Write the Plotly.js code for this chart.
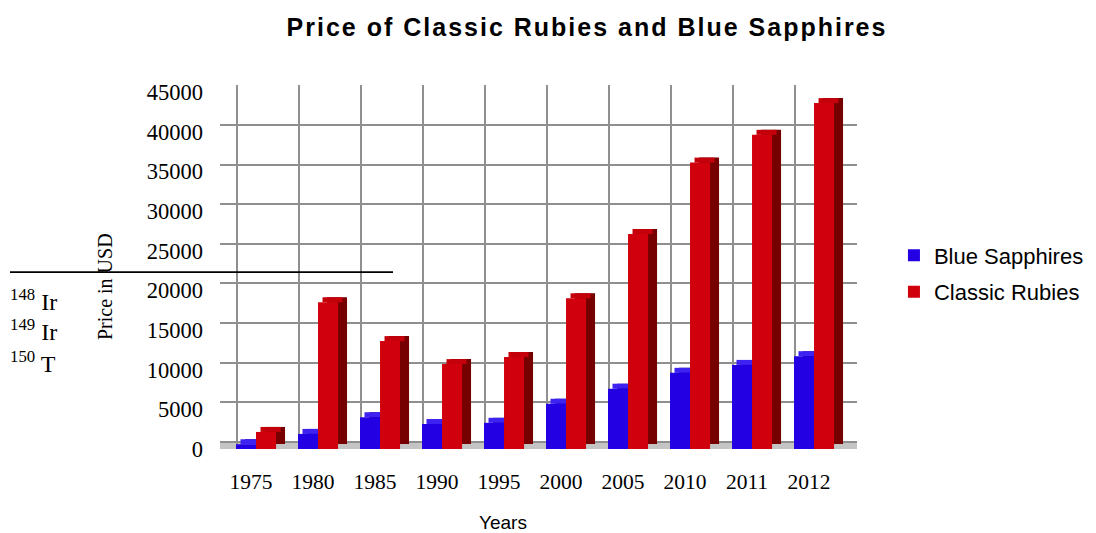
<!DOCTYPE html>
<html>
<head>
<meta charset="utf-8">
<script src="https://cdn.plot.ly/plotly-3.0.1.min.js"></script>
<style>
  html, body { margin: 0; padding: 0; background: #ffffff; }
  #chart { width: 1096px; height: 533px; }
  #chart .gtitle { letter-spacing: 2px; }
</style>
</head>
<body>
<div id="chart"></div>
<script>
// ---- data ----
const years = ['1975', '1980', '1985', '1990', '1995', '2000', '2005', '2010', '2011', '2012'];
const blueSapphires = [600, 1900, 4000, 3150, 3300, 5700, 7600, 9600, 10600, 11700];
const classicRubies = [2150, 18500, 13600, 10700, 11600, 19000, 27100, 36100, 39600, 43600];
const yTickValues = [0, 5000, 10000, 15000, 20000, 25000, 30000, 35000, 40000, 45000];
const yTickLabels = ['0', '5000', '10000', '15000', '20000', '25000', '30000', '35000', '40000', '45000'];
const seriesNames = ['Blue Sapphires', 'Classic Rubies'];

// ---- style ----
const SANS = 'Liberation Sans, Arial, sans-serif';
const SERIF = 'Liberation Serif, Times New Roman, serif';
const W = 0.323;          // bar front width (category units)
const DX = 0.145;         // 3D depth offset (category units)
const DY = 630;           // 3D depth rise (value units)

function bar3d(name, vals, offset, front, top, side, group) {
  return [
    { type: 'bar', x: years, y: vals, base: vals.map(() => DY), offset: offset + DX, width: W,
      marker: { color: side, line: { width: 0 } }, showlegend: false, hoverinfo: 'skip',
      xaxis: 'x', yaxis: 'y' },
    { type: 'bar', x: years, y: vals.map(() => DY), base: vals, offset: offset + DX / 2, width: W,
      marker: { color: top, line: { width: 0 } }, showlegend: false, hoverinfo: 'skip',
      xaxis: 'x', yaxis: 'y' },
    { type: 'bar', name: name, x: years, y: vals, offset: offset, width: W,
      marker: { color: front, line: { width: 0 } }, legendgroup: group,
      xaxis: 'x', yaxis: 'y' }
  ];
}

const traces = [].concat(
  bar3d(seriesNames[0], blueSapphires, -0.242, '#2300e4', '#3d22f2', '#14007a', 'g1'),
  bar3d(seriesNames[1], classicRubies, 0.081, '#d0000c', '#c4000a', '#760000', 'g2'),
  // invisible trace to activate the back-wall grid axes
  [{ type: 'scatter', x: [0], y: [0], xaxis: 'x2', yaxis: 'y2', mode: 'markers',
     marker: { opacity: 0 }, showlegend: false, hoverinfo: 'skip' }]
);

const layout = {
  width: 1096, height: 533,
  margin: { l: 220, r: 239, t: 85, b: 84, autoexpand: false },
  paper_bgcolor: '#ffffff', plot_bgcolor: 'rgba(0,0,0,0)',
  barmode: 'overlay',
  hovermode: false,
  title: {
    text: 'Price of Classic Rubies and Blue Sapphires',
    font: { family: SANS, size: 25, color: '#000000', weight: 'bold' },
    x: 0.5356, xref: 'container', xanchor: 'center',
    y: 0.949, yref: 'container', yanchor: 'middle'
  },
  xaxis: {
    type: 'category', range: [-0.5, 9.774], fixedrange: true,
    showgrid: false, zeroline: false, showline: false, ticks: '',
    ticklabelstandoff: 17,
    tickfont: { family: SERIF, size: 21.5, color: '#000000' }
  },
  yaxis: {
    range: [0, 45884], fixedrange: true,
    showgrid: false, zeroline: false, showline: false, ticks: '',
    tickmode: 'array', tickvals: yTickValues, ticktext: yTickLabels,
    ticklabelstandoff: 16,
    tickfont: { family: SERIF, size: 22.5, color: '#000000' }
  },
  xaxis2: {
    overlaying: 'x', range: [-0.274, 10.002], fixedrange: true,
    showgrid: true, gridcolor: '#8f8f8f', gridwidth: 2,
    tickmode: 'linear', tick0: 0, dtick: 1,
    showticklabels: false, ticks: '', zeroline: false, showline: false,
    layer: 'below traces'
  },
  yaxis2: {
    overlaying: 'y', range: [-882, 45030], fixedrange: true,
    showgrid: true, gridcolor: '#8f8f8f', gridwidth: 2,
    tickmode: 'linear', tick0: 0, dtick: 5000,
    showticklabels: false, ticks: '', zeroline: false, showline: false,
    layer: 'below traces'
  },
  legend: {
    x: 1.058, xref: 'paper', xanchor: 'left',
    y: 0.481, yref: 'paper', yanchor: 'middle',
    font: { family: SANS, size: 22, color: '#000000' },
    traceorder: 'grouped', tracegroupgap: 5,
    itemwidth: 30,
    bgcolor: 'rgba(0,0,0,0)', borderwidth: 0
  },
  shapes: [
    // floor of the 3D frame
    { type: 'rect', xref: 'paper', yref: 'y2', x0: 0, x1: 1, y0: -882, y1: 0,
      fillcolor: '#c4c4c4', line: { width: 0 }, layer: 'below' },
    // stray rule line from the source document
    { type: 'line', xref: 'paper', yref: 'paper', x0: -0.3297, x1: 0.2716, y0: 0.486, y1: 0.486,
      line: { color: '#000000', width: 1.6 }, layer: 'above' }
  ],
  annotations: [
    { text: 'Years', xref: 'paper', yref: 'paper', x: 0.444, y: -0.203,
      xanchor: 'center', yanchor: 'middle', showarrow: false,
      font: { family: SANS, size: 19, color: '#000000' } },
    { text: 'Price in USD', xref: 'paper', yref: 'paper', x: -0.1805, y: 0.445,
      xanchor: 'center', yanchor: 'middle', showarrow: false, textangle: -90,
      font: { family: SERIF, size: 20, color: '#000000' } },
    { text: '<sup>148</sup> Ir', xref: 'paper', yref: 'paper', x: -0.333, y: 0.409,
      xanchor: 'left', yanchor: 'middle', showarrow: false,
      font: { family: SERIF, size: 24, color: '#000000' } },
    { text: '<sup>149</sup> Ir', xref: 'paper', yref: 'paper', x: -0.333, y: 0.327,
      xanchor: 'left', yanchor: 'middle', showarrow: false,
      font: { family: SERIF, size: 24, color: '#000000' } },
    { text: '<sup>150</sup> T', xref: 'paper', yref: 'paper', x: -0.333, y: 0.239,
      xanchor: 'left', yanchor: 'middle', showarrow: false,
      font: { family: SERIF, size: 24, color: '#000000' } }
  ]
};

Plotly.newPlot('chart', traces, layout, { displayModeBar: false, staticPlot: true });
</script>
</body>
</html>
